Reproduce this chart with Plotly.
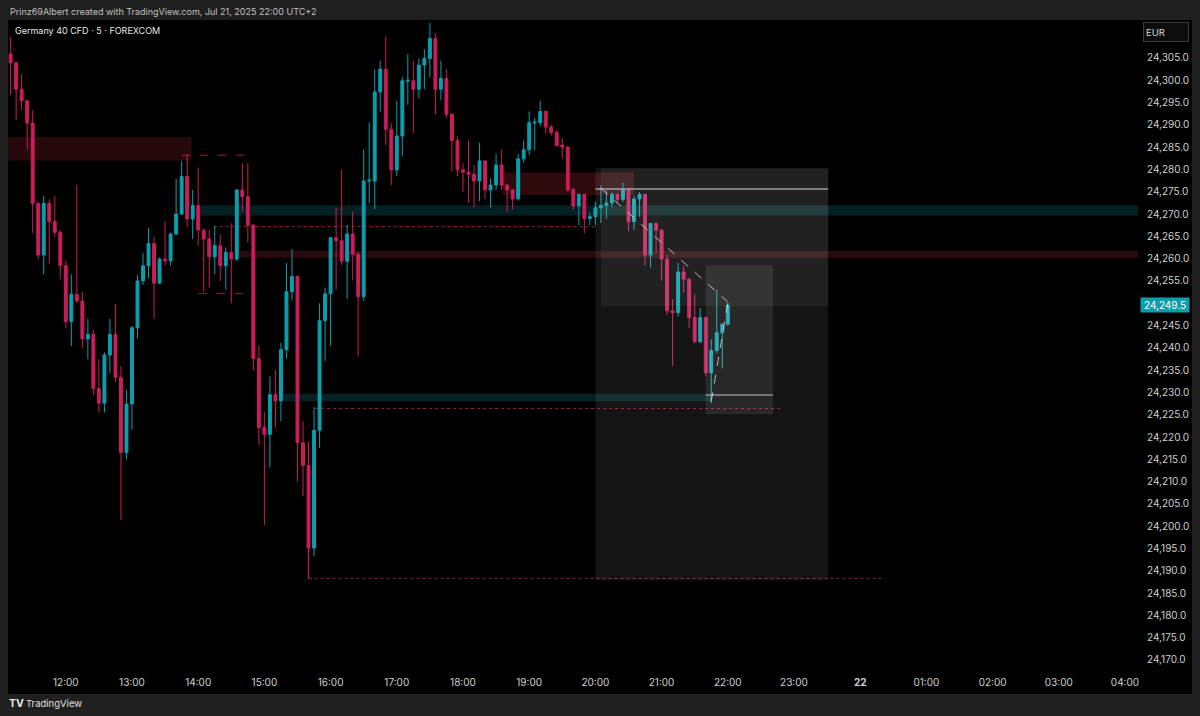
import plotly.graph_objects as go
import pandas as pd

# ---------------- data (5-minute candles, Germany 40 CFD, 21 Jul 2025) ----------------
start_time = "2025-07-21 11:10"
opens = [24305.9, 24303.9, 24298.0, 24295.4, 24290.4, 24272.4, 24260.8, 24272.4, 24268.3, 24265.9,
         24258.4, 24245.9, 24252.0, 24250.5, 24242.0, 24243.0, 24230.9, 24227.6, 24238.4, 24243.0,
         24233.4, 24216.5, 24227.4, 24244.5, 24255.0, 24258.4, 24263.4, 24254.5, 24259.9, 24259.5,
         24265.5, 24270.0, 24278.4, 24268.9, 24271.9, 24266.4, 24264.4, 24260.4, 24262.9, 24258.4,
         24261.4, 24259.9, 24275.4, 24273.9, 24267.5, 24237.6, 24222.1, 24220.6, 24229.5, 24228.1,
         24239.6, 24252.6, 24256.0, 24218.7, 24213.6, 24195.1, 24221.5, 24246.1, 24252.1, 24264.7,
         24264.0, 24259.4, 24265.5, 24261.0, 24251.5, 24277.4, 24277.4, 24297.4, 24302.5, 24289.0,
         24279.9, 24287.5, 24299.8, 24299.9, 24298.0, 24303.4, 24304.9, 24309.4, 24298.0, 24300.4,
         24292.4, 24286.5, 24279.9, 24279.4, 24278.9, 24277.4, 24281.9, 24275.4, 24276.5, 24281.0,
         24276.5, 24275.4, 24273.4, 24282.4, 24284.4, 24290.4, 24290.5, 24293.0, 24289.5, 24288.3,
         24285.5, 24285.0, 24275.5, 24271.8, 24274.4, 24269.0, 24269.4, 24271.4, 24271.9, 24272.5,
         24274.4, 24273.3, 24275.4, 24268.3, 24273.4, 24274.4, 24260.8, 24267.9, 24266.4, 24259.9,
         24248.3, 24247.9, 24257.0, 24255.4, 24246.8, 24241.4, 24246.8, 24234.4, 24239.4, 24243.4,
         24245.3]
highs = [24309.6, 24304.2, 24301.4, 24295.6, 24293.3, 24272.6, 24274.1, 24273.3, 24274.1, 24266.4,
         24259.5, 24256.5, 24276.5, 24252.6, 24246.5, 24244.0, 24237.4, 24239.0, 24246.5, 24249.8,
         24235.9, 24230.5, 24244.9, 24256.3, 24261.3, 24266.9, 24264.9, 24260.3, 24268.4, 24265.9,
         24277.9, 24281.9, 24283.4, 24275.4, 24280.4, 24266.6, 24266.4, 24267.4, 24265.5, 24262.5,
         24267.9, 24275.6, 24281.4, 24281.5, 24267.7, 24240.5, 24225.6, 24233.6, 24235.0, 24241.1,
         24259.0, 24262.1, 24256.2, 24223.6, 24219.1, 24226.7, 24250.0, 24253.5, 24264.9, 24271.4,
         24280.0, 24267.5, 24270.6, 24261.6, 24284.5, 24290.5, 24302.5, 24304.4, 24309.9, 24290.4,
         24295.4, 24300.8, 24305.9, 24304.4, 24304.9, 24307.0, 24312.9, 24310.5, 24304.4, 24302.5,
         24292.6, 24287.5, 24281.4, 24286.5, 24281.0, 24286.0, 24282.1, 24278.0, 24283.5, 24284.4,
         24276.7, 24275.6, 24283.5, 24286.5, 24293.0, 24291.5, 24295.4, 24293.2, 24290.0, 24288.9,
         24287.0, 24285.3, 24275.8, 24274.6, 24274.6, 24270.3, 24272.8, 24276.5, 24275.3, 24274.9,
         24274.6, 24277.0, 24275.6, 24274.1, 24274.9, 24274.6, 24267.9, 24268.1, 24266.6, 24260.8,
         24250.9, 24259.0, 24258.4, 24255.6, 24252.0, 24248.9, 24247.0, 24241.9, 24253.0, 24245.5,
         24250.0]
lows = [24296.7, 24291.1, 24293.3, 24284.5, 24265.7, 24259.9, 24256.5, 24258.9, 24264.9, 24255.4,
        24244.5, 24240.4, 24250.0, 24240.0, 24237.4, 24229.4, 24225.5, 24225.5, 24234.4, 24232.4,
        24201.4, 24215.0, 24221.6, 24242.1, 24254.1, 24255.6, 24246.5, 24254.3, 24258.4, 24258.4,
        24265.3, 24269.8, 24267.0, 24264.4, 24262.9, 24252.5, 24253.5, 24256.5, 24255.0, 24253.0,
        24250.0, 24259.5, 24270.4, 24263.7, 24235.0, 24218.1, 24200.2, 24213.2, 24222.1, 24223.6,
        24237.6, 24250.6, 24210.0, 24206.7, 24188.2, 24193.2, 24217.6, 24237.0, 24240.5, 24253.1,
        24258.6, 24251.0, 24255.1, 24238.1, 24250.5, 24272.4, 24271.1, 24293.0, 24285.5, 24276.5,
        24278.5, 24283.0, 24294.5, 24288.1, 24296.0, 24298.0, 24300.7, 24292.4, 24295.6, 24291.5,
        24279.5, 24278.5, 24275.0, 24272.5, 24271.5, 24272.9, 24273.4, 24271.5, 24275.4, 24275.4,
        24270.5, 24271.1, 24273.0, 24281.5, 24283.2, 24284.4, 24289.7, 24288.1, 24287.6, 24285.2,
        24282.5, 24275.0, 24271.0, 24267.5, 24265.7, 24267.5, 24267.5, 24268.0, 24269.0, 24271.5,
        24272.4, 24272.8, 24266.1, 24266.4, 24269.4, 24258.4, 24258.0, 24261.3, 24255.1, 24247.4,
        24235.9, 24247.0, 24252.4, 24244.4, 24241.0, 24241.0, 24233.5, 24227.6, 24238.8, 24235.4,
        24245.0]
closes = [24303.9, 24298.0, 24295.4, 24290.4, 24272.4, 24260.8, 24272.4, 24268.3, 24265.9, 24258.4,
          24245.9, 24252.0, 24250.5, 24242.0, 24243.0, 24230.9, 24227.6, 24238.4, 24243.0, 24233.4,
          24216.5, 24227.4, 24244.5, 24255.0, 24258.4, 24263.4, 24254.5, 24259.9, 24259.5, 24265.5,
          24270.0, 24278.4, 24268.9, 24271.9, 24266.4, 24264.4, 24260.4, 24262.9, 24258.4, 24261.4,
          24259.9, 24275.4, 24273.9, 24267.5, 24237.6, 24222.1, 24220.6, 24229.5, 24228.1, 24239.6,
          24252.6, 24256.0, 24218.7, 24213.6, 24195.1, 24221.5, 24246.1, 24252.1, 24264.7, 24264.0,
          24259.4, 24265.5, 24261.0, 24251.5, 24277.4, 24277.6, 24297.4, 24302.5, 24289.0, 24279.9,
          24287.5, 24299.9, 24300.0, 24298.0, 24303.4, 24304.9, 24309.4, 24298.0, 24300.4, 24292.4,
          24286.5, 24279.9, 24279.4, 24278.9, 24277.4, 24281.9, 24275.4, 24276.5, 24281.0, 24276.5,
          24275.4, 24273.4, 24282.4, 24284.4, 24290.5, 24290.6, 24293.0, 24289.5, 24288.3, 24285.3,
          24285.0, 24275.4, 24271.8, 24274.4, 24269.0, 24269.4, 24271.4, 24271.9, 24272.5, 24274.4,
          24273.3, 24275.4, 24268.3, 24273.4, 24274.4, 24260.8, 24267.9, 24266.4, 24259.9, 24248.3,
          24247.9, 24257.0, 24255.4, 24246.8, 24241.4, 24246.8, 24234.4, 24239.4, 24243.4, 24245.3,
          24249.5]

last_price = 24249.5
price_ticks = [24305, 24300, 24295, 24290, 24285, 24280, 24275, 24270, 24265, 24260, 24255,
               24245, 24240, 24235, 24230, 24225, 24220, 24215, 24210, 24205, 24200, 24195,
               24190, 24185, 24180, 24175, 24170]
time_tick_vals = ["2025-07-21 12:00", "2025-07-21 13:00", "2025-07-21 14:00", "2025-07-21 15:00",
                  "2025-07-21 16:00", "2025-07-21 17:00", "2025-07-21 18:00", "2025-07-21 19:00",
                  "2025-07-21 20:00", "2025-07-21 21:00", "2025-07-21 22:00", "2025-07-21 23:00",
                  "2025-07-22 00:00", "2025-07-22 01:00", "2025-07-22 02:00", "2025-07-22 03:00",
                  "2025-07-22 04:00"]
time_tick_text = ["12:00", "13:00", "14:00", "15:00", "16:00", "17:00", "18:00", "19:00", "20:00",
                  "21:00", "22:00", "23:00", "<b>22</b>", "01:00", "02:00", "03:00", "04:00"]

# drawn zones: (start, end, low price, high price)
red_zone_top = ("2025-07-21 11:00", "2025-07-21 13:54", 24282.0, 24287.3)
red_zone_mid = ("2025-07-21 18:36", "2025-07-21 20:35", 24274.3, 24279.3)
red_zone_line = ("2025-07-21 14:34", "2025-07-22 06:00", 24260.2, 24261.7)
teal_zone_high = ("2025-07-21 14:02", "2025-07-22 06:00", 24269.7, 24272.0)
teal_zone_low = ("2025-07-21 15:17", "2025-07-21 21:46", 24228.0, 24229.7)
# dotted / dashed levels: (start, end, price)
dotted_levels = [("2025-07-21 14:14", "2025-07-21 20:00", 24267.2),
                 ("2025-07-21 15:46", "2025-07-21 22:50", 24226.4),
                 ("2025-07-21 15:40", "2025-07-22 00:21", 24188.3)]
dashed_levels = [("2025-07-21 13:45", "2025-07-21 14:45", 24283.2),
                 ("2025-07-21 14:00", "2025-07-21 14:45", 24252.2)]
# position tools
big_box = ("2025-07-21 20:00", "2025-07-21 23:31", 24187.8, 24280.3)
big_box_upper = ("2025-07-21 20:05", "2025-07-21 23:31", 24249.4, 24280.3)
big_box_entry = 24275.6
small_box = ("2025-07-21 21:40", "2025-07-21 22:41", 24225.1, 24258.5)
small_box_entry = 24229.4
trend_line_1 = (("2025-07-21 20:05", 24275.8), ("2025-07-21 22:00", 24250.3))
trend_line_2 = (("2025-07-21 21:45", 24228.0), ("2025-07-21 22:00", 24250.0))

UP = "#0b9fad"
DOWN = "#c91d5c"
FONT = "Inter, Roboto, 'Noto Sans', sans-serif"

times = pd.date_range(start_time, periods=len(opens), freq="5min")

fig = go.Figure()
fig.add_trace(go.Candlestick(
    x=times, open=opens, high=highs, low=lows, close=closes,
    increasing=dict(line=dict(color=UP, width=1), fillcolor=UP),
    decreasing=dict(line=dict(color=DOWN, width=1), fillcolor=DOWN),
    whiskerwidth=0, hoverinfo="skip", showlegend=False,
))

shapes = []
# black chart panel on grey page
shapes.append(dict(type="rect", xref="paper", yref="paper", x0=0, x1=(1192 - 8) / 1130,
                   y0=(665 - 694) / 645, y1=1.0, fillcolor="#000000", line=dict(width=0),
                   layer="below"))


def zone(z, color):
    shapes.append(dict(type="rect", xref="x", yref="y", x0=z[0], x1=z[1], y0=z[2], y1=z[3],
                       fillcolor=color, line=dict(width=0), layer="below"))


zone(red_zone_top, "rgba(242,54,69,0.16)")
zone(red_zone_mid, "rgba(242,54,69,0.19)")
zone(red_zone_line, "rgba(242,54,69,0.17)")
zone(teal_zone_high, "rgba(20,170,180,0.19)")
zone(teal_zone_low, "rgba(20,170,180,0.19)")

for s, e, p in dotted_levels:
    shapes.append(dict(type="line", xref="x", yref="y", x0=s, x1=e, y0=p, y1=p,
                       line=dict(color="rgba(200,40,70,0.75)", width=1, dash="dot"), layer="below"))
for s, e, p in dashed_levels:
    shapes.append(dict(type="line", xref="x", yref="y", x0=s, x1=e, y0=p, y1=p,
                       line=dict(color="rgba(200,50,70,0.7)", width=1, dash="dash"), layer="below"))

# position tool boxes (drawn above candles, translucent)
for b, a in [(big_box, 0.08), (big_box_upper, 0.06), (small_box, 0.085)]:
    shapes.append(dict(type="rect", xref="x", yref="y", x0=b[0], x1=b[1], y0=b[2], y1=b[3],
                       fillcolor=f"rgba(255,255,255,{a})", line=dict(width=0), layer="above"))
shapes.append(dict(type="line", xref="x", yref="y", x0=big_box[0], x1=big_box[1],
                   y0=big_box_entry, y1=big_box_entry,
                   line=dict(color="rgba(200,200,200,0.75)", width=1.5), layer="above"))
shapes.append(dict(type="line", xref="x", yref="y", x0=small_box[0], x1=small_box[1],
                   y0=small_box_entry, y1=small_box_entry,
                   line=dict(color="rgba(170,170,170,0.6)", width=2), layer="above"))
for (a, b) in [trend_line_1, trend_line_2]:
    shapes.append(dict(type="line", xref="x", yref="y", x0=a[0], y0=a[1], x1=b[0], y1=b[1],
                       line=dict(color="rgba(220,220,220,0.8)", width=1, dash="dash"), layer="above"))

annotations = [
    dict(xref="paper", yref="paper", x=0.0, y=(665 - 12) / 645, xanchor="left", yanchor="middle",
         text="Prinz69Albert created with TradingView.com, Jul 21, 2025 22:00 UTC+2",
         showarrow=False, font=dict(family=FONT, size=9, color="#c0c0c0")),
    dict(xref="paper", yref="paper", x=5 / 1130, y=(665 - 31) / 645, xanchor="left", yanchor="middle",
         text="Germany 40 CFD · 5 · FOREXCOM", showarrow=False,
         font=dict(family=FONT, size=9, color="#e6e6e6")),
    dict(xref="paper", yref="paper", x=(1166 - 8) / 1130, y=(665 - 32) / 645, xanchor="center",
         yanchor="middle", text="EUR", showarrow=False, align="left", width=40, height=14,
         bgcolor="#0c0c0c", bordercolor="#3a3a3a", borderwidth=1, borderpad=2,
         font=dict(family=FONT, size=9.5, color="#d8d8d8")),
    dict(xref="paper", yref="y", x=(1165 - 8) / 1130, y=last_price, xanchor="center",
         yanchor="middle", text=f"{last_price:,.1f}", showarrow=False, width=46, height=12,
         bgcolor=UP, borderpad=1, font=dict(family=FONT, size=10, color="#ffffff")),
    dict(xref="paper", yref="paper", x=(7 - 8) / 1130, y=(665 - 703) / 645, xanchor="left",
         yanchor="middle", text="<b>TV</b>", showarrow=False,
         font=dict(family=FONT, size=10.5, color="#e8e8e8")),
    dict(xref="paper", yref="paper", x=(24 - 8) / 1130, y=(665 - 703) / 645, xanchor="left",
         yanchor="middle", text="TradingView", showarrow=False,
         font=dict(family=FONT, size=9.5, color="#e0e0e0")),
]

fig.update_layout(
    width=1200, height=716,
    margin=dict(l=8, r=62, t=20, b=51, pad=0),
    paper_bgcolor="#1f1f1f", plot_bgcolor="#000000",
    boxgap=0.25,
    shapes=shapes, annotations=annotations,
    showlegend=False, hovermode=False,
    font=dict(family=FONT, size=10, color="#cfcfcf"),
)
fig.update_xaxes(
    type="date", range=["2025-07-21 11:07:37", "2025-07-22 04:11:48"],
    rangeslider=dict(visible=False), showgrid=False, zeroline=False, showline=False,
    tickvals=time_tick_vals, ticktext=time_tick_text, ticks="", ticklabelstandoff=10,
    tickfont=dict(family=FONT, size=10, color="#cfcfcf"),
)
fig.update_yaxes(
    side="right", range=[24168.87, 24313.52], showgrid=False, zeroline=False, showline=False,
    tickvals=price_ticks, ticktext=[f"{v:,.1f}" for v in price_ticks], ticks="",
    ticklabelstandoff=8, tickfont=dict(family=FONT, size=10, color="#cfcfcf"),
)

fig.write_html(
    "out.html",
    config={"displayModeBar": False},
    post_script="document.body.style.margin='0';document.body.style.background='#1f1f1f';",
)
